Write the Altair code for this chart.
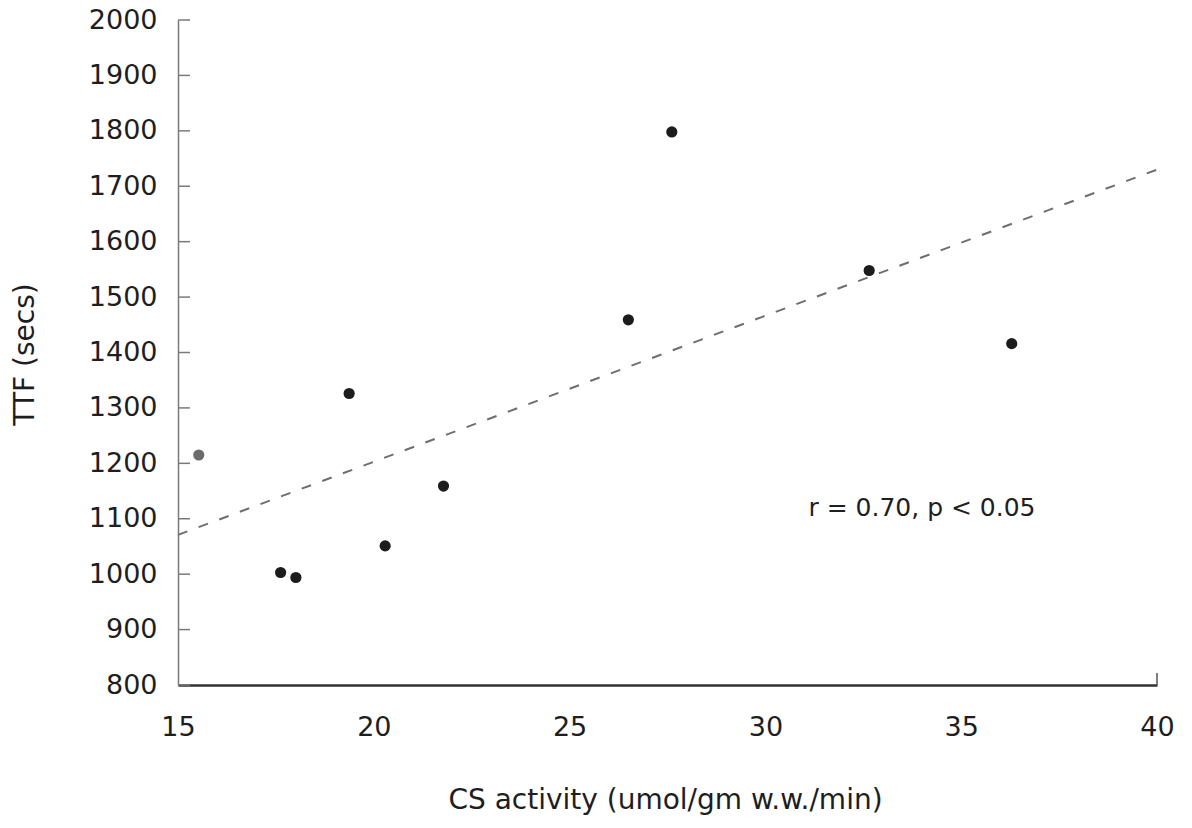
import altair as alt
import pandas as pd

# ---- data ----
cs_activity = [15.53, 17.62, 18.01, 19.37, 20.29, 21.78, 26.50, 27.61, 32.65, 36.29]
ttf_secs = [1215, 1003, 994, 1326, 1051, 1159, 1459, 1798, 1548, 1416]
point_shade = ["gray", "black", "black", "black", "black", "black", "black", "black", "black", "black"]

fit_x = [15, 40]
fit_y = [1071, 1730]

x_ticks = [15, 20, 25, 30, 35, 40]
y_ticks = [800, 900, 1000, 1100, 1200, 1300, 1400, 1500, 1600, 1700, 1800, 1900, 2000]
x_end_tick = [40]

annotation_x = [31.1]
annotation_y = [1120]
annotation_text = ["r = 0.70, p < 0.05"]

x_title = "CS activity (umol/gm w.w./min)"
y_title = "TTF (secs)"

FONT = "DejaVu Sans"
INK = "#1e1e1e"

points = pd.DataFrame({"cs": cs_activity, "ttf": ttf_secs, "shade": point_shade})
fit = pd.DataFrame({"cs": fit_x, "ttf": fit_y})
yt = pd.DataFrame({"ttf": y_ticks})
xt = pd.DataFrame({"cs": x_end_tick})
ann = pd.DataFrame({"cs": annotation_x, "ttf": annotation_y, "label": annotation_text})

x_scale = alt.Scale(domain=[15, 40], nice=False, zero=False)
y_scale = alt.Scale(domain=[800, 2000], nice=False, zero=False)

x_axis = alt.Axis(
    values=x_ticks, grid=False, ticks=False, tickSize=0, format="d",
    domainColor="#333333", domainWidth=2.5,
    labelFont=FONT, labelFontSize=27, labelColor=INK, labelPadding=29,
    title=x_title, titleFont=FONT, titleFontSize=28, titleFontWeight="normal",
    titleColor=INK, titleX=487, titleY=115, titleAlign="center",
    titleBaseline="middle", labelFlush=False,
)
y_axis = alt.Axis(
    values=y_ticks, grid=False, ticks=False, tickSize=0, format="d",
    domainColor="#7a7a7a", domainWidth=1.5,
    labelFont=FONT, labelFontSize=27, labelColor=INK, labelPadding=21,
    title=y_title, titleFont=FONT, titleFontSize=28, titleFontWeight="normal",
    titleColor=INK, titleX=-153, titleY=334, titleAlign="center",
    titleBaseline="middle", labelFlush=False,
)

X = alt.X("cs:Q", scale=x_scale, axis=x_axis)
Y = alt.Y("ttf:Q", scale=y_scale, axis=y_axis)

dots = alt.Chart(points).mark_point(filled=True, size=125, opacity=1).encode(
    x=X, y=Y,
    color=alt.Color("shade:N", scale=alt.Scale(domain=["black", "gray"], range=["#1c1c1c", "#6b6b6b"]), legend=None),
)

line = alt.Chart(fit).mark_line(color="#6e6e6e", strokeWidth=2, strokeDash=[10, 12]).encode(x=X, y=Y)

ytick_marks = alt.Chart(yt).mark_tick(
    orient="horizontal", color="#7a7a7a", thickness=1.5, size=12, opacity=1
).encode(x=alt.value(6), y=Y)

xtick_marks = alt.Chart(xt).mark_rule(color="#555555", strokeWidth=1.5).encode(
    x=X, y=alt.value(665), y2=alt.value(653)
)

text = alt.Chart(ann).mark_text(
    align="left", baseline="middle", font=FONT, fontSize=25, color=INK
).encode(x=X, y=Y, text="label:N")

chart = alt.layer(line, ytick_marks, xtick_marks, dots, text).properties(
    width=979, height=665,
    autosize=alt.AutoSizeParams(type="none"),
    padding={"left": 178, "top": 20, "right": 35, "bottom": 143},
    background="white",
).configure_view(stroke=None)

chart.save("out.html", embed_options={"renderer": "svg", "actions": False})
